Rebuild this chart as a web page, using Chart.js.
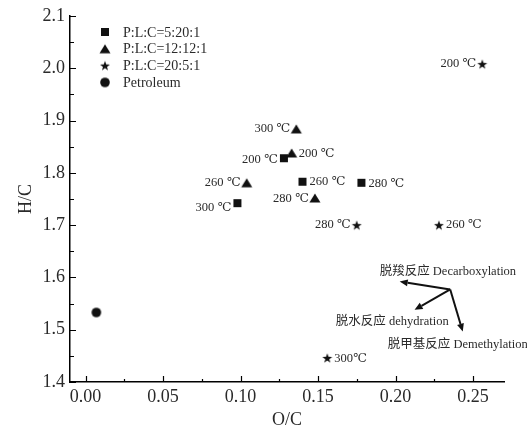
<!DOCTYPE html>
<html>
<head>
<meta charset="utf-8">
<script src="https://cdn.jsdelivr.net/npm/chart.js@4.4.1/dist/chart.umd.min.js"></script>
<style>
  html, body { margin: 0; padding: 0; background: #fff; }
  #wrap { width: 527px; height: 429px; }
</style>
</head>
<body>
<div id="wrap"><canvas id="chart"></canvas></div>
<script>
// sample groups, O/C against H/C
const seriesNames = ['P:L:C=5:20:1', 'P:L:C=12:12:1', 'P:L:C=20:5:1', 'Petroleum'];

const sqOC = [0.128, 0.140, 0.178, 0.098];
const sqHC = [1.828, 1.783, 1.781, 1.742];
const sqTemps = ['200 ℃', '260 ℃', '280 ℃', '300 ℃'];

const triOC = [0.136, 0.133, 0.104, 0.148];
const triHC = [1.884, 1.838, 1.781, 1.752];
const triTemps = ['300 ℃', '200 ℃', '260 ℃', '280 ℃'];

const starOC = [0.256, 0.175, 0.228, 0.156];
const starHC = [2.008, 1.700, 1.700, 1.446];
const starTemps = ['200 ℃', '280 ℃', '260 ℃', '300℃'];

const petOC = [0.007];
const petHC = [1.533];

const xTicks = [0, 0.025, 0.05, 0.075, 0.1, 0.125, 0.15, 0.175, 0.2, 0.225, 0.25];
const yTicks = [1.4, 1.45, 1.5, 1.55, 1.6, 1.65, 1.7, 1.75, 1.8, 1.85, 1.9, 1.95, 2.0, 2.05, 2.1];

const reactions = ['脱羧反应 Decarboxylation', '脱水反应 dehydration', '脱甲基反应 Demethylation'];

// --- styling / placement ---
const serif = '"Liberation Serif", "DejaVu Serif", "Noto Sans CJK SC", serif';
const textColor = '#2a2a2a';
// which side of the marker each temperature label sits on, and a small vertical nudge
const sqSide = [['l', 2], ['r', 0], ['r', 1], ['l', 5]];
const triSide = [['l', 0], ['r', 1], ['l', 0], ['l', 1]];
const starSide = [['l', 0], ['l', 0], ['r', 0], ['r', 1]];
// arrow origin, arrow tips and text anchors, in data units
const arrowFrom = [0.2353, 1.577];
const arrowTips = [[0.2027, 1.592], [0.2123, 1.538], [0.2434, 1.4964]];
const reactionAt = [[0.1898, 1.611], [0.1615, 1.5155], [0.195, 1.471]];

function marker(kind) {
  const c = document.createElement('canvas');
  c.width = 14; c.height = 14;
  const g = c.getContext('2d');
  g.fillStyle = '#111';
  g.beginPath();
  if (kind === 'square') {
    g.rect(3, 3, 8, 8);
  } else if (kind === 'triangle') {
    g.moveTo(7, 2.5); g.lineTo(12.5, 11.5); g.lineTo(1.5, 11.5); g.closePath();
  } else if (kind === 'star') {
    for (let i = 0; i < 10; i++) {
      const r = i % 2 ? 2.1 : 5.2;
      const a = -Math.PI / 2 + i * Math.PI / 5;
      const px = 7 + r * Math.cos(a), py = 7.5 + r * Math.sin(a);
      i ? g.lineTo(px, py) : g.moveTo(px, py);
    }
    g.closePath();
  } else {
    g.arc(7, 7, 4.8, 0, Math.PI * 2);
  }
  g.fill();
  return c;
}
const markers = [marker('square'), marker('triangle'), marker('star'), marker('circle')];

const toPoints = (xs, ys) => xs.map((x, i) => ({ x: x, y: ys[i] }));

const datasets = [
  { label: seriesNames[0], data: toPoints(sqOC, sqHC), temps: sqTemps, side: sqSide },
  { label: seriesNames[1], data: toPoints(triOC, triHC), temps: triTemps, side: triSide },
  { label: seriesNames[2], data: toPoints(starOC, starHC), temps: starTemps, side: starSide },
  { label: seriesNames[3], data: toPoints(petOC, petHC) }
].map((d, i) => Object.assign(d, {
  pointStyle: markers[i],
  pointRadius: 6,
  showLine: false,
  backgroundColor: '#111',
  borderColor: '#111'
}));

// temperature labels next to the points
const pointLabels = {
  id: 'pointLabels',
  afterDatasetsDraw(chart) {
    const ctx = chart.ctx;
    ctx.save();
    ctx.font = '12.5px ' + serif;
    ctx.fillStyle = textColor;
    ctx.textBaseline = 'middle';
    chart.data.datasets.forEach((ds, di) => {
      if (!ds.temps) return;
      chart.getDatasetMeta(di).data.forEach((pt, i) => {
        const [side, dy] = ds.side[i];
        if (side === 'l') {
          ctx.textAlign = 'right';
          ctx.fillText(ds.temps[i], pt.x - 6, pt.y + dy);
        } else {
          ctx.textAlign = 'left';
          ctx.fillText(ds.temps[i], pt.x + 7, pt.y + dy);
        }
      });
    });
    ctx.restore();
  }
};

// legend in the top-left corner of the plot
const cornerLegend = {
  id: 'cornerLegend',
  afterDraw(chart) {
    const { ctx, chartArea: a } = chart;
    ctx.save();
    ctx.font = '14px ' + serif;
    ctx.fillStyle = textColor;
    ctx.textBaseline = 'middle';
    ctx.textAlign = 'left';
    chart.data.datasets.forEach((ds, i) => {
      const cy = a.top + 16 + i * 16.8;
      const m = markers[i];
      ctx.drawImage(m, a.left + 35 - m.width / 2, cy - m.height / 2);
      ctx.fillText(ds.label, a.left + 53, cy + 1);
    });
    ctx.restore();
  }
};

// ticks pointing into the plot, long on labelled values
const inwardTicks = {
  id: 'inwardTicks',
  afterDraw(chart) {
    const { ctx, chartArea: a, scales: { x, y } } = chart;
    ctx.save();
    ctx.strokeStyle = '#000';
    ctx.lineWidth = 1.2;
    ctx.beginPath();
    xTicks.forEach(v => {
      const px = Math.round(x.getPixelForValue(v)) + 0.5;
      const len = Math.round(v * 1000) % 50 === 0 ? 6 : 3;
      ctx.moveTo(px, a.bottom);
      ctx.lineTo(px, a.bottom - len);
    });
    yTicks.forEach(v => {
      const py = Math.round(y.getPixelForValue(v)) + 0.5;
      const len = Math.round(v * 100) % 10 === 0 ? 6 : 4;
      ctx.moveTo(a.left, py);
      ctx.lineTo(a.left + len, py);
    });
    ctx.stroke();
    ctx.restore();
  }
};

// reaction pathway arrows
const reactionArrows = {
  id: 'reactionArrows',
  afterDatasetsDraw(chart) {
    const { ctx, scales: { x, y } } = chart;
    const ox = x.getPixelForValue(arrowFrom[0]), oy = y.getPixelForValue(arrowFrom[1]);
    ctx.save();
    ctx.strokeStyle = '#111';
    ctx.fillStyle = '#111';
    ctx.lineWidth = 2;
    arrowTips.forEach(t => {
      const tx = x.getPixelForValue(t[0]), ty = y.getPixelForValue(t[1]);
      const ang = Math.atan2(ty - oy, tx - ox);
      const hl = 8, hw = 3.5;
      const bx = tx - hl * Math.cos(ang), by = ty - hl * Math.sin(ang);
      ctx.beginPath();
      ctx.moveTo(ox, oy);
      ctx.lineTo(bx, by);
      ctx.stroke();
      ctx.beginPath();
      ctx.moveTo(tx, ty);
      ctx.lineTo(bx + hw * Math.sin(ang), by - hw * Math.cos(ang));
      ctx.lineTo(bx - hw * Math.sin(ang), by + hw * Math.cos(ang));
      ctx.closePath();
      ctx.fill();
    });
    ctx.font = '12.5px ' + serif;
    ctx.fillStyle = textColor;
    ctx.textBaseline = 'middle';
    ctx.textAlign = 'left';
    reactions.forEach((txt, i) => {
      ctx.fillText(txt, x.getPixelForValue(reactionAt[i][0]), y.getPixelForValue(reactionAt[i][1]));
    });
    ctx.restore();
  }
};

const axisFont = { family: serif, size: 18 };
const titleFont = { family: serif, size: 18, lineHeight: 1 };

new Chart(document.getElementById('chart'), {
  type: 'scatter',
  data: { datasets: datasets },
  options: {
    responsive: true,
    maintainAspectRatio: false,
    animation: false,
    layout: { padding: { top: 16, right: 23, left: 0, bottom: 0 } },
    plugins: {
      legend: { display: false },
      tooltip: { enabled: false }
    },
    scales: {
      x: {
        type: 'linear',
        min: -0.01,
        max: 0.27,
        afterBuildTicks: s => { s.ticks = xTicks.map(v => ({ value: v })); },
        afterFit: s => { s.height = 47; },
        grid: { display: false, drawTicks: false },
        border: { display: true, color: '#000', width: 1.5 },
        ticks: {
          autoSkip: false,
          maxRotation: 0,
          padding: 4,
          color: textColor,
          font: axisFont,
          callback: v => Math.round(v * 1000) % 50 === 0 ? v.toFixed(2) : ''
        },
        title: { display: true, text: 'O/C', color: textColor, font: titleFont, padding: { top: 0, bottom: 0 } }
      },
      y: {
        type: 'linear',
        min: 1.4,
        max: 2.1,
        afterBuildTicks: s => { s.ticks = yTicks.map(v => ({ value: v })); },
        afterFit: s => { s.width = 70; },
        grid: { display: false, drawTicks: false },
        border: { display: true, color: '#000', width: 1.5 },
        ticks: {
          autoSkip: false,
          padding: 5,
          color: textColor,
          font: axisFont,
          callback: v => Math.round(v * 100) % 10 === 0 ? v.toFixed(1) : ''
        },
        title: { display: true, text: 'H/C', color: textColor, font: titleFont, padding: { top: 17, bottom: 0 } }
      }
    }
  },
  plugins: [pointLabels, cornerLegend, inwardTicks, reactionArrows]
});
</script>
</body>
</html>
